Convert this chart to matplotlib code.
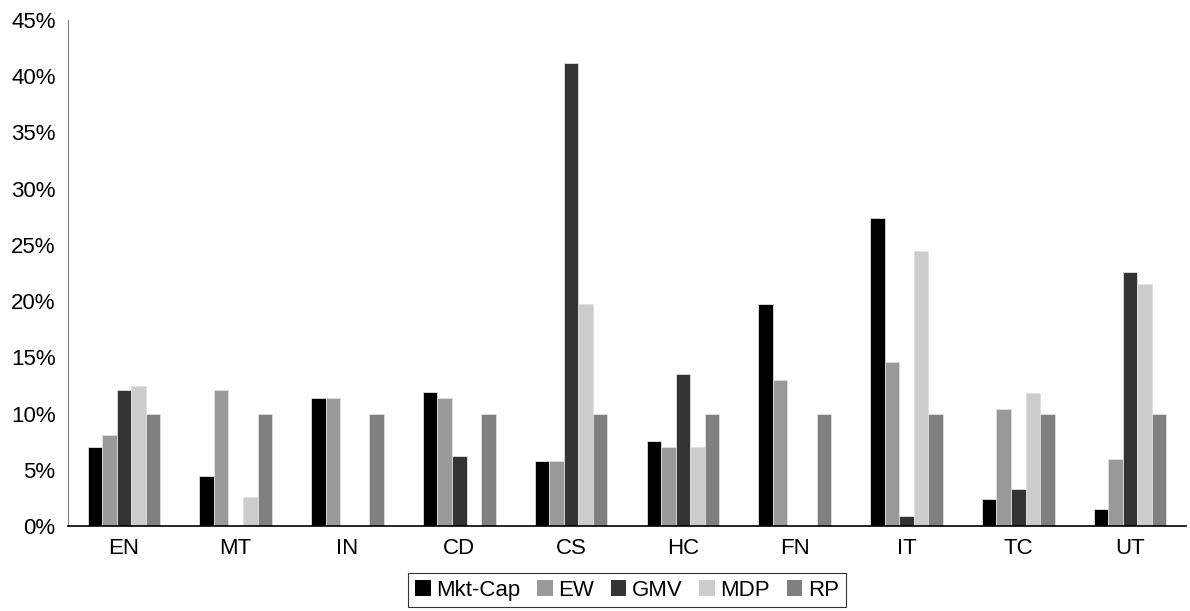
import matplotlib
matplotlib.use('Agg')
import matplotlib.pyplot as plt
import numpy as np
from matplotlib.ticker import PercentFormatter

plt.rcParams['font.family'] = ['Liberation Sans', 'DejaVu Sans']

sectores = ['EN', 'MT', 'IN', 'CD', 'CS', 'HC', 'FN', 'IT', 'TC', 'UT']
mkt_cap = [7.0, 4.45, 11.4, 11.95, 5.8, 7.55, 19.75, 27.4, 2.4, 1.5]
ew = [8.1, 12.1, 11.4, 11.4, 5.8, 7.05, 12.95, 14.6, 10.4, 6.0]
gmv = [12.1, 0.0, 0.0, 6.2, 41.2, 13.5, 0.0, 0.85, 3.3, 22.6]
mdp = [12.45, 2.55, 0.0, 0.0, 19.75, 7.05, 0.0, 24.5, 11.8, 21.5]
rp = [10.0, 10.0, 10.0, 10.0, 10.0, 10.0, 10.0, 10.0, 10.0, 10.0]

series = [('Mkt-Cap', mkt_cap, '#000000'),
          ('EW', ew, '#999999'),
          ('GMV', gmv, '#333333'),
          ('MDP', mdp, '#cccccc'),
          ('RP', rp, '#808080')]

fig = plt.figure(figsize=(11.9, 6.11), dpi=100)
ax = fig.add_axes([68 / 1190, 1 - 526 / 611, 1118 / 1190, 506 / 611])

x = np.arange(len(sectores))
ancho = 0.13
for i, (nombre, valores, color) in enumerate(series):
    desplazamiento = (i - 2) * ancho
    ax.bar(x + desplazamiento, valores, ancho, color=color, label=nombre,
           edgecolor='#e0e0e0', linewidth=0.6)

ax.set_xlim(-0.5, len(sectores) - 0.5)
ax.set_ylim(0, 45)
ax.set_yticks(np.arange(0, 46, 5))
ax.yaxis.set_major_formatter(PercentFormatter(decimals=0))
ax.set_xticks(x)
ax.set_xticklabels(sectores)
ax.tick_params(axis='both', labelsize=16, length=0, colors='black')
ax.tick_params(axis='x', pad=9)
ax.tick_params(axis='y', pad=9)
for lado in ['top', 'right']:
    ax.spines[lado].set_visible(False)
ax.spines['left'].set_color('#808080')
ax.spines['bottom'].set_color('black')
ax.spines['bottom'].set_linewidth(1.2)

leyenda = ax.legend(loc='upper center', bbox_to_anchor=(0.5, -0.093), ncol=5,
                    frameon=True, fancybox=False, fontsize=16,
                    handlelength=0.7, handleheight=0.7, handletextpad=0.25,
                    columnspacing=0.75, borderpad=0.3, borderaxespad=0)
leyenda.get_frame().set_edgecolor('black')
leyenda.get_frame().set_linewidth(0.8)
for h in leyenda.legend_handles:
    h.set_edgecolor('none')

fig.savefig('out.png', dpi=100)
